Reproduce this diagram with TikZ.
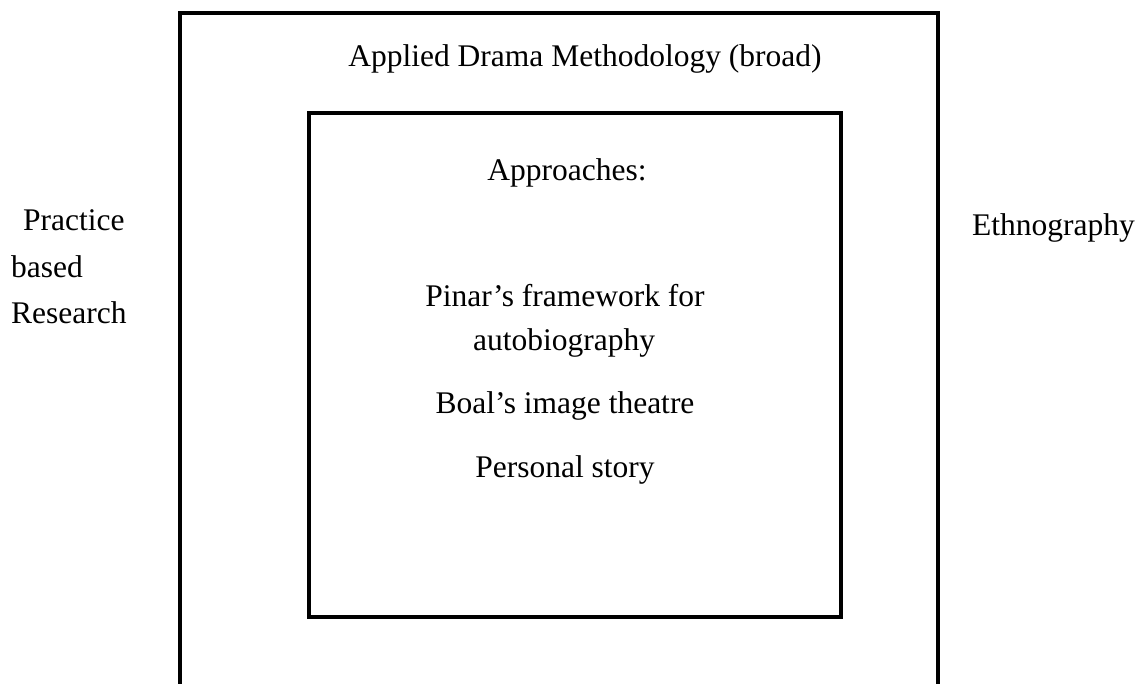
\documentclass[tikz,border=0pt]{standalone}
\usepackage{fontspec}
\setmainfont{Liberation Serif}
\begin{document}
\begin{tikzpicture}[x=1pt,y=-1pt,
  frame/.style={draw=black,line width=3.6pt,line join=miter},
  lbl/.style={inner sep=0pt,anchor=base,font=\fontsize{31.5pt}{38pt}\selectfont},
  lblw/.style={lbl,anchor=base west}]
\useasboundingbox (0,0) rectangle (1141,683);
% outer frame (open at the bottom)
\coordinate (oBL) at (180,690);
\coordinate (oTL) at (180,13);
\coordinate (oTR) at (938,13);
\coordinate (oBR) at (938,690);
\draw[frame] (oBL) -- (oTL) -- (oTR) -- (oBR);
% inner box
\node[frame,rectangle,minimum width=532pt,minimum height=504pt,inner sep=0pt] (inner) at (575,365) {};
% texts
\node[lbl] (broad) at (585,66) {Applied Drama Methodology (broad)};
\node[lbl] (appr) at (567,180) {Approaches:};
\node[lbl] (pinar) at (565,306) {Pinar’s framework for};
\node[lbl] (auto) at (564,350) {autobiography};
\node[lbl] (boal) at (565,413) {Boal’s image theatre};
\node[lbl] (pers) at (565,477) {Personal story};
\node[lblw] (prac) at (23,230) {Practice};
\node[lblw] (based) at (11,277) {based};
\node[lblw] (res) at (11,323) {Research};
\node[lblw] (eth) at (972,235) {Ethnography};
\end{tikzpicture}
\end{document}
